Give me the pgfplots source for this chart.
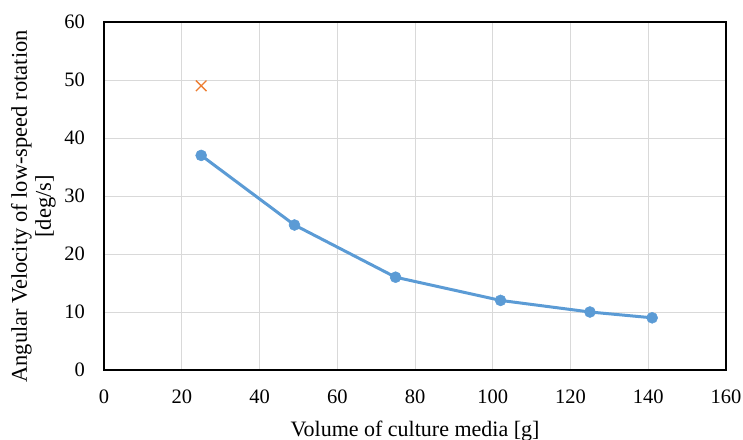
\documentclass[border=0pt]{standalone}
\usepackage{fontspec}
\setmainfont{Liberation Serif}
\usepackage{pgfplots}
\pgfplotsset{compat=1.18}
\definecolor{serblue}{HTML}{5B9BD5}
\definecolor{serorange}{HTML}{ED7D31}
\definecolor{gridgray}{HTML}{D9D9D9}
\begin{document}
\begin{tikzpicture}
\useasboundingbox (-104pt,-69pt) rectangle (639pt,370pt);
\begin{axis}[
  at={(0pt,0pt)}, anchor=south west,
  scale only axis, width=622pt, height=348pt,
  xmin=0, xmax=160, ymin=0, ymax=60,
  xtick={0,20,...,160}, ytick={0,10,...,60},
  grid=major, major grid style={gridgray, line width=1pt},
  major tick length=0pt,
  axis line style={black, line width=1.3pt},
  /pgf/number format/assume math mode=true,
  ticklabel style={font=\fontsize{20.5pt}{24pt}\selectfont, inner sep=0pt},
  yticklabel style={xshift=-19pt},
  xticklabel style={yshift=-20pt},
  xlabel={Volume of culture media [g]},
  xlabel style={font=\fontsize{22pt}{24pt}\selectfont, inner sep=0pt,
    at={(axis description cs:0.5,0)}, anchor=base, yshift=-66pt},
  ylabel={Angular Velocity of low-speed rotation\\{[deg/s]}},
  ylabel style={font=\fontsize{22.5pt}{24pt}\selectfont, inner sep=0pt, align=center,
    at={(axis description cs:-0.0772,0.47)}, anchor=south},
  clip=false,
]
\addplot[serblue, line width=3pt, mark=*, mark size=5.5pt, mark options={solid, fill=serblue, draw=serblue, line width=0.5pt}]
  coordinates {(25,37) (49,25) (75,16) (102,12) (125,10) (141,9)};
\addplot[only marks, serorange, mark=x, mark size=7.5pt, mark options={line width=1.4pt}]
  coordinates {(25,49)};
\end{axis}
\end{tikzpicture}
\end{document}
